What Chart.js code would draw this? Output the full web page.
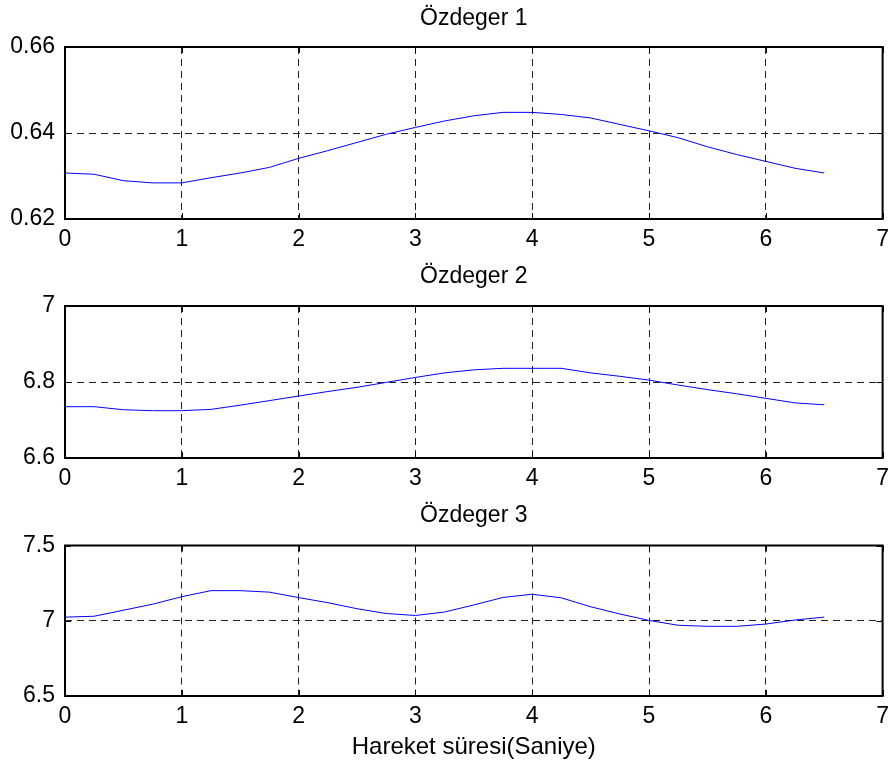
<!DOCTYPE html>
<html>
<head>
<meta charset="utf-8">
<script src="https://cdn.jsdelivr.net/npm/chart.js@4.4.1/dist/chart.umd.min.js"></script>
<style>
  html, body { margin: 0; padding: 0; background: #fff; }
  #fig { position: relative; width: 896px; height: 764px; overflow: hidden; }
  #fig canvas { position: absolute; left: 0; }
</style>
</head>
<body>
<div id="fig">
  <canvas id="c1" width="896" height="254" style="top:0px"></canvas>
  <canvas id="c2" width="896" height="239" style="top:254px"></canvas>
  <canvas id="c3" width="896" height="271" style="top:493px"></canvas>
</div>
<script>
// Time axis (seconds) shared by the three eigenvalue traces
const timeSec = [0, 0.25, 0.5, 0.75, 1.0, 1.25, 1.5, 1.75, 2.0, 2.25, 2.5, 2.75, 3.0, 3.25,
                 3.5, 3.75, 4.0, 4.25, 4.5, 4.75, 5.0, 5.25, 5.5, 5.75, 6.0, 6.25, 6.5];

// Eigenvalue 1
const eigen1 = [0.6307, 0.6304, 0.6289, 0.6284, 0.6284, 0.6296, 0.6307, 0.6320, 0.6341,
                0.6359, 0.6378, 0.6397, 0.6413, 0.6428, 0.6440, 0.6448, 0.6448, 0.6443,
                0.6435, 0.6420, 0.6405, 0.6389, 0.6368, 0.6350, 0.6334, 0.6318, 0.6307];

// Eigenvalue 2
const eigen2 = [6.735, 6.735, 6.727, 6.7245, 6.7245, 6.728, 6.739, 6.751, 6.763,
                6.775, 6.786, 6.799, 6.812, 6.824, 6.832, 6.836, 6.836, 6.836,
                6.824, 6.815, 6.805, 6.792, 6.780, 6.769, 6.757, 6.745, 6.740];

// Eigenvalue 3
const eigen3 = [7.024, 7.030, 7.070, 7.110, 7.160, 7.200, 7.200, 7.190, 7.154,
                7.120, 7.080, 7.048, 7.035, 7.058, 7.105, 7.155, 7.176, 7.152,
                7.093, 7.045, 7.002, 6.970, 6.963, 6.963, 6.978, 7.005, 7.024];

// Tick labels
const xTicks = [0, 1, 2, 3, 4, 5, 6, 7];
const yTicks1 = [0.62, 0.64, 0.66];
const yTicks2 = [6.6, 6.8, 7];
const yTicks3 = [6.5, 7, 7.5];

// Titles
const titles = ['Özdeger 1', 'Özdeger 2', 'Özdeger 3'];
const xAxisTitle = 'Hareket süresi(Saniye)';

const FONT = { family: '"Liberation Sans", Arial, Helvetica, sans-serif', size: 23 };
Chart.defaults.color = '#000';

// Solid box around the plot area plus short inward tick marks on all four sides
const framePlugin = {
  id: 'frame',
  afterDraw(chart) {
    const { ctx, chartArea: a, scales: { x, y } } = chart;
    const len = 6;
    ctx.save();
    ctx.strokeStyle = '#000';
    ctx.lineWidth = 1;
    ctx.beginPath();
    x.ticks.forEach(t => {
      const px = Math.round(x.getPixelForValue(t.value)) + 0.5;
      ctx.moveTo(px, a.bottom); ctx.lineTo(px, a.bottom - len);
      ctx.moveTo(px, a.top); ctx.lineTo(px, a.top + len);
    });
    y.ticks.forEach(t => {
      const py = Math.round(y.getPixelForValue(t.value)) + 0.5;
      ctx.moveTo(a.left, py); ctx.lineTo(a.left + len, py);
      ctx.moveTo(a.right, py); ctx.lineTo(a.right - len, py);
    });
    ctx.stroke();
    ctx.lineWidth = 2;
    ctx.strokeRect(a.left, a.top, a.right - a.left, a.bottom - a.top);
    ctx.restore();
  }
};

function makePanel(canvasId, title, values, yTicks, opts) {
  const points = timeSec.map((t, i) => ({ x: t, y: values[i] }));
  return new Chart(document.getElementById(canvasId), {
    type: 'line',
    data: {
      datasets: [{
        data: points,
        borderColor: '#0000ff',
        borderWidth: 1,
        pointRadius: 0,
        tension: 0,
        fill: false
      }]
    },
    options: {
      responsive: false,
      animation: false,
      events: [],
      layout: { padding: { left: 0, right: 8, top: 0, bottom: 0 } },
      plugins: {
        legend: { display: false },
        tooltip: { enabled: false },
        title: {
          display: true,
          text: title,
          fullSize: false,
          color: '#000',
          font: { ...FONT, weight: 'normal' },
          padding: opts.titlePad
        }
      },
      scales: {
        x: {
          type: 'linear',
          min: 0,
          max: 7,
          afterBuildTicks: s => { s.ticks = xTicks.map(v => ({ value: v })); },
          afterFit: s => { s.height = opts.xHeight; },
          ticks: { font: FONT, padding: 7, maxRotation: 0, autoSkip: false, callback: v => String(v) },
          grid: { color: '#222', lineWidth: 1, drawTicks: false },
          border: { display: false, dash: [7, 5] },
          title: opts.xTitle ? {
            display: true, text: opts.xTitle, font: { ...FONT, size: 24 }, color: '#000',
            padding: { top: 0, bottom: 2 }
          } : { display: false }
        },
        y: {
          type: 'linear',
          min: yTicks[0],
          max: yTicks[yTicks.length - 1],
          afterBuildTicks: s => { s.ticks = yTicks.map(v => ({ value: v })); },
          afterFit: s => { s.width = 65; },
          ticks: { font: FONT, padding: 10, autoSkip: false, callback: v => String(+v.toFixed(3)) },
          grid: { color: '#222', lineWidth: 1, drawTicks: false },
          border: { display: false, dash: [7, 5] }
        }
      }
    },
    plugins: [framePlugin]
  });
}

makePanel('c1', titles[0], eigen1, yTicks1, { titlePad: { top: 5, bottom: 14.4 }, xHeight: 35 });
makePanel('c2', titles[1], eigen2, yTicks2, { titlePad: { top: 9, bottom: 15.4 }, xHeight: 35 });
makePanel('c3', titles[2], eigen3, yTicks3, { titlePad: { top: 9, bottom: 15.9 }, xHeight: 68, xTitle: xAxisTitle });
</script>
</body>
</html>
